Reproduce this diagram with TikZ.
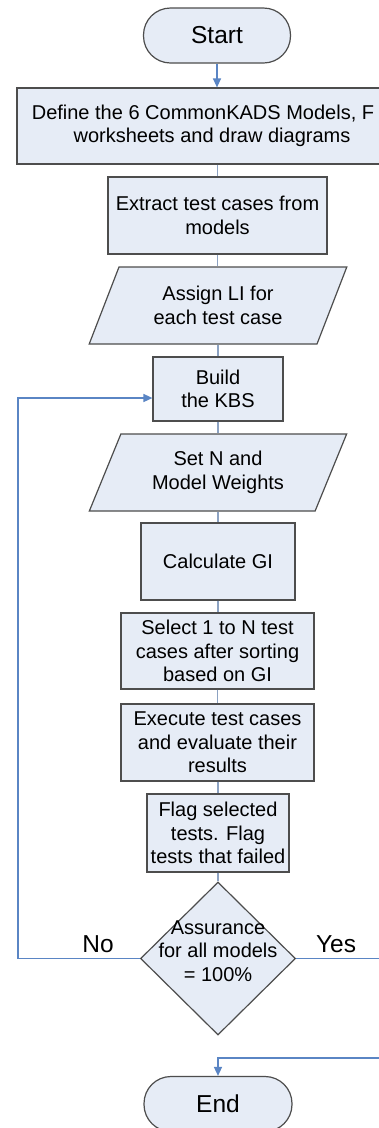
\documentclass[tikz,border=0pt]{standalone}
\usepackage{fontspec}
\setmainfont{Liberation Sans}
\usetikzlibrary{shapes.geometric,arrows.meta,calc}
\definecolor{boxfill}{HTML}{E6ECF6}
\definecolor{boxline}{HTML}{4D4D4D}
\definecolor{conn}{HTML}{8CA2C2}
\definecolor{loopblue}{HTML}{5A85C4}
\tikzset{
  base/.style={draw=boxline, fill=boxfill, line width=1.2pt, inner sep=0pt, align=center,
    font=\fontsize{20}{23.4}\selectfont},
  procbox/.style={base, rectangle},
  termbox/.style={base, rectangle, rounded corners=27pt, font=\fontsize{24.5}{28}\selectfont},
  iobox/.style={base, trapezium, trapezium left angle=63, trapezium right angle=117,
    trapezium stretches=true},
  decbox/.style={base, diamond, aspect=1},
  plaintext/.style={inner sep=0pt, align=center, font=\fontsize{20}{23.4}\selectfont},
  bigtext/.style={inner sep=0pt, font=\fontsize{24.5}{28}\selectfont},
  link/.style={draw=conn, line width=1.2pt},
  looplink/.style={draw=loopblue, line width=1.5pt},
  tip/.style={-{Triangle[length=9pt,width=8pt]}},
}
\begin{document}
\begin{tikzpicture}[x=1pt,y=-1pt]
\useasboundingbox (0,0) rectangle (379,1128);
\fill[white] (0,0) rectangle (379,1128);

\node[termbox, minimum width=147pt, minimum height=55pt] (start) at (217,35.5) {Start};
\node[procbox, minimum width=390pt, minimum height=76pt] (define) at (212,126)
  {Define the 6 CommonKADS Models, F\hspace*{18pt}\\worksheets and draw diagrams};
\node[procbox, minimum width=219pt, minimum height=77pt] (extract) at (217.5,215.5)
  {Extract test cases from\\models};
\node[iobox, minimum width=258pt, minimum height=77pt] (assign) at (218,305.5)
  {Assign LI for\\each test case};
\node[procbox, minimum width=130pt, minimum height=64pt] (build) at (218,389)
  {Build\\the KBS};
\node[iobox, minimum width=258pt, minimum height=77pt] (setn) at (218,472.5)
  {Set N and\\Model Weights};
\node[procbox, minimum width=154pt, minimum height=77pt] (calc) at (218,561.5)
  {Calculate GI};
\node[procbox, minimum width=193pt, minimum height=76pt] (select) at (217.5,651)
  {Select 1 to N test\\cases after sorting\\based on GI};
\node[procbox, minimum width=193pt, minimum height=77pt] (exec) at (217.5,742.5)
  {Execute test cases\\and evaluate their\\results};
\node[procbox, minimum width=142pt, minimum height=78pt] (flag) at (218,833)
  {Flag selected\\tests. Flag\\tests that failed};
\node[decbox, minimum width=155pt, minimum height=153pt] (dec) at (218,958.5) {};
\node[plaintext] (dectext) at (218,951) {Assurance\\for all models\\= 100\%};
\node[termbox, minimum width=148pt, minimum height=55pt] (endn) at (218,1104) {End};

\node[bigtext] (nolabel) at (98,944) {No};
\node[bigtext] (yeslabel) at (336,944) {Yes};

\coordinate (nocorner) at (18,398);
\coordinate (yescorner) at (381,1058);

\draw[link, draw=loopblue, tip] (start.south) -- (define.north -| start.south);
\draw[link] (define.south -| extract.north) -- (extract.north);
\draw[link] (extract.south) -- (assign.north -| extract.south);
\draw[link] (assign.south -| build.north) -- (build.north);
\draw[link] (build.south) -- (setn.north -| build.south);
\draw[link] (setn.south -| calc.north) -- (calc.north);
\draw[link] (calc.south) -- (select.north -| calc.south);
\draw[link] (select.south) -- (exec.north);
\draw[link] (exec.south -| flag.north) -- (flag.north);
\draw[link] (flag.south) -- (dec.north);

\draw[looplink, tip] (dec.west) -| (nocorner) -- (nocorner -| build.west);
\draw[looplink, tip] (dec.east) -| (yescorner) -| (endn.north);
\end{tikzpicture}
\end{document}
